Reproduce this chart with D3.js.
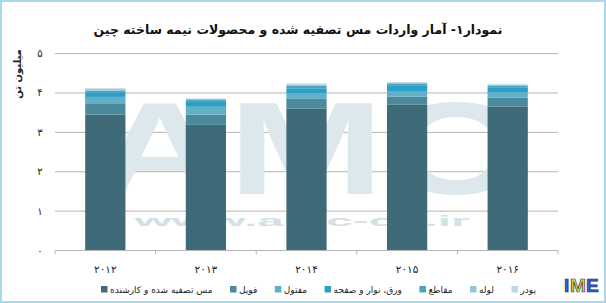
<!DOCTYPE html>
<html>
<head>
<meta charset="utf-8">
<script src="https://cdn.jsdelivr.net/npm/d3@7"></script>
<style>
  body { margin: 0; background: #fff; }
  svg { display: block; font-family: "DejaVu Sans", sans-serif; }
</style>
</head>
<body>
<svg width="606" height="303"></svg>
<script>
const years = ["2012", "2013", "2014", "2015", "2016"];
const seriesNames = ["مس تصفیه شده و کارشنده", "فویل", "مفتول", "ورق، نوار و صفحه", "مقاطع", "لوله", "پودر"];
const refined  = [3.45, 3.19, 3.60, 3.71, 3.66];
const foil     = [0.27, 0.26, 0.25, 0.20, 0.22];
const wire     = [0.18, 0.20, 0.15, 0.14, 0.13];
const sheet    = [0.10, 0.12, 0.12, 0.13, 0.12];
const sections = [0.06, 0.05, 0.06, 0.05, 0.05];
const tube     = [0.04, 0.03, 0.04, 0.03, 0.03];
const powder   = [0.02, 0.01, 0.02, 0.02, 0.02];
const yTicks = [0, 1, 2, 3, 4, 5];
const colors = ["#3f6b78", "#4b8a9c", "#62b0c8", "#2b9fc6", "#4aa4c0", "#95c6d6", "#bcd9e2"];

const fa = s => String(s).replace(/[0-9]/g, d => "۰۱۲۳۴۵۶۷۸۹"[d]);

const svg = d3.select("svg");
const width = +svg.attr("width");
const height = +svg.attr("height");

// outer frame
svg.append("rect")
  .attr("x", 1).attr("y", 1)
  .attr("width", width - 2).attr("height", height - 2)
  .attr("fill", "#fff")
  .attr("stroke", "#a9d9e8")
  .attr("stroke-width", 2);

svg.append("text")
  .attr("x", 298).attr("y", 34)
  .attr("text-anchor", "middle")
  .attr("font-size", 12.5)
  .attr("font-weight", "bold")
  .attr("fill", "#111")
  .text("نمودار۱- آمار واردات مس تصفیه شده و محصولات نیمه ساخته چین");

const x = d3.scaleBand().domain(years).range([55, 558]).paddingInner(0.6).paddingOuter(0.3);
const y = d3.scaleLinear().domain([0, 5]).range([250.5, 53.6]);

// gridlines
svg.append("g")
  .selectAll("line")
  .data(yTicks.filter(d => d > 0))
  .join("line")
  .attr("x1", 55).attr("x2", 558)
  .attr("y1", d => y(d)).attr("y2", d => y(d))
  .attr("stroke", "#b4b4b4");

// watermark
const wm = svg.append("g")
  .attr("font-family", "Liberation Sans, sans-serif")
  .attr("font-weight", "bold");
wm.append("text")
  .attr("x", 92).attr("y", 194)
  .attr("fill", "#dce8ec")
  .attr("font-size", 132)
  .attr("textLength", 428)
  .attr("lengthAdjust", "spacingAndGlyphs")
  .text("AMC");
wm.append("text")
  .attr("x", 302).attr("y", 226)
  .attr("text-anchor", "middle")
  .attr("fill", "#d2e1e7")
  .attr("font-size", 14)
  .attr("textLength", 335)
  .attr("lengthAdjust", "spacingAndGlyphs")
  .text("www.amc-co.ir");

const table = years.map((yr, i) => ({
  year: yr,
  s0: refined[i], s1: foil[i], s2: wire[i], s3: sheet[i],
  s4: sections[i], s5: tube[i], s6: powder[i]
}));
const keys = ["s0", "s1", "s2", "s3", "s4", "s5", "s6"];
const stack = d3.stack().keys(keys)(table);

svg.append("g")
  .selectAll("g")
  .data(stack)
  .join("g")
  .attr("fill", (d, i) => colors[i])
  .selectAll("rect")
  .data(d => d)
  .join("rect")
  .attr("x", d => x(d.data.year))
  .attr("width", x.bandwidth())
  .attr("y", d => y(d[1]))
  .attr("height", d => y(d[0]) - y(d[1]));

// x axis
const xAxis = svg.append("g");
xAxis.append("line")
  .attr("x1", 55).attr("x2", 558)
  .attr("y1", y(0)).attr("y2", y(0))
  .attr("stroke", "#b4b4b4");
xAxis.selectAll("line.tick")
  .data(d3.range(years.length + 1))
  .join("line")
  .attr("class", "tick")
  .attr("x1", i => 55 + i * (503 / years.length))
  .attr("x2", i => 55 + i * (503 / years.length))
  .attr("y1", y(0)).attr("y2", y(0) + 4)
  .attr("stroke", "#b4b4b4");
xAxis.selectAll("text")
  .data(years)
  .join("text")
  .attr("x", d => x(d) + x.bandwidth() / 2)
  .attr("y", 273)
  .attr("text-anchor", "middle")
  .attr("font-size", 10.5)
  .attr("fill", "#222")
  .text(d => fa(d));

// y labels
svg.append("g")
  .selectAll("text")
  .data(yTicks)
  .join("text")
  .attr("x", 40)
  .attr("y", d => y(d) + 3.5)
  .attr("text-anchor", "middle")
  .attr("font-size", 10)
  .attr("fill", "#222")
  .text(d => fa(d));

svg.append("text")
  .attr("transform", "translate(21,74) rotate(-90)")
  .attr("text-anchor", "middle")
  .attr("font-size", 10)
  .attr("font-weight", "bold")
  .attr("fill", "#222")
  .text("میلیون تن");

// legend, laid out left to right between x=101 and x=536
const lg = svg.append("g")
  .selectAll("g")
  .data(seriesNames)
  .join("g");
lg.append("rect")
  .attr("x", 0).attr("y", -7)
  .attr("width", 6.5).attr("height", 6.5)
  .attr("fill", (d, i) => colors[i]);
lg.append("text")
  .attr("x", 9).attr("y", 0)
  .attr("font-size", 9)
  .attr("fill", "#222")
  .text(d => d);
const widths = [];
lg.select("text").each(function() { widths.push(9 + this.getComputedTextLength()); });
const gap = (435 - d3.sum(widths)) / (widths.length - 1);
let cur = 101;
lg.attr("transform", (d, i) => {
  const t = `translate(${cur},293)`;
  cur += widths[i] + gap;
  return t;
});

// IME logo
const logo = svg.append("g")
  .attr("font-family", "Liberation Sans, sans-serif")
  .attr("font-weight", "bold")
  .attr("font-size", 19)
  .attr("stroke", "#1b2a80")
  .attr("stroke-width", 0.7);
[["I", "#3a5cc8", 564], ["M", "#f2d21b", 570], ["E", "#3a5cc8", 586]].forEach(([t, c, px]) => {
  logo.append("text").attr("x", px).attr("y", 292).attr("fill", c).text(t);
});
</script>
</body>
</html>
